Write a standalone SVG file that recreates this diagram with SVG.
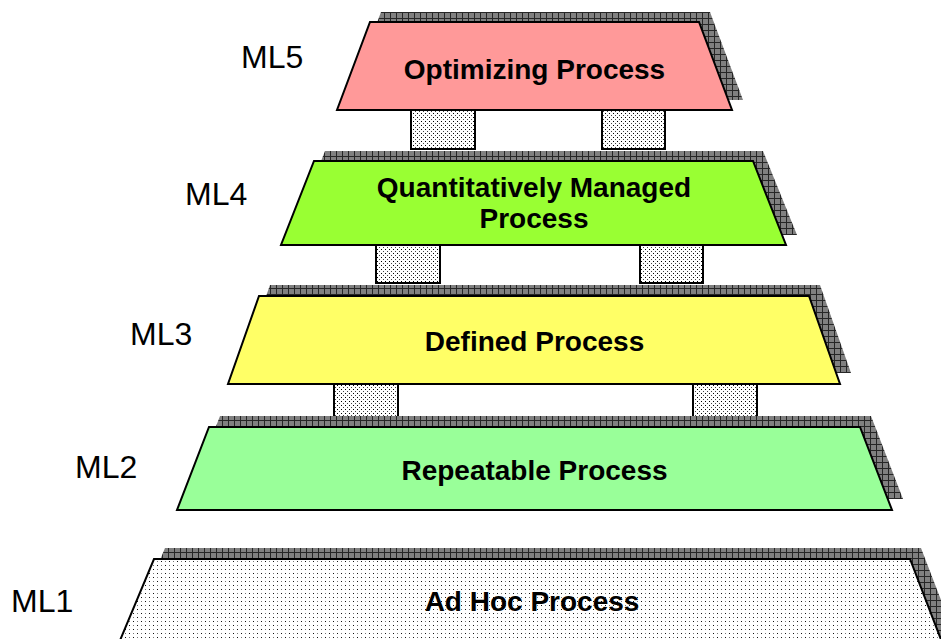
<svg xmlns="http://www.w3.org/2000/svg" width="941" height="639" viewBox="0 0 941 639">
  <defs>
    <!-- gray hatched grid used for drop shadows -->
    <pattern id="grid" patternUnits="userSpaceOnUse" width="6" height="6">
      <rect width="6" height="6" fill="#808080"/>
      <path d="M0 0.5H6M0.5 0V6" stroke="#262626" stroke-width="1" fill="none"/>
    </pattern>
    <!-- sparse dot fill for the base level -->
    <pattern id="sparseDots" patternUnits="userSpaceOnUse" width="8" height="8">
      <rect width="8" height="8" fill="#ffffff"/>
      <rect x="1" y="1" width="1" height="1" fill="#111"/>
      <rect x="5" y="1" width="1" height="1" fill="#777"/>
      <rect x="1" y="5" width="1" height="1" fill="#777"/>
      <rect x="5" y="5" width="1" height="1" fill="#111"/>
    </pattern>
    <!-- dense dot fill for the support blocks -->
    <pattern id="denseDots" patternUnits="userSpaceOnUse" width="4" height="4">
      <rect width="4" height="4" fill="#ffffff"/>
      <rect x="1" y="1" width="1" height="1" fill="#000"/>
      <rect x="3" y="3" width="1" height="1" fill="#444"/>
    </pattern>
  </defs>
  <style>
    .shadow { fill: url(#grid); stroke: none; }
    .level { stroke: #000; stroke-width: 2; stroke-linejoin: miter; }
    .title { font-family: "Liberation Sans", Arial, sans-serif; font-weight: bold; font-size: 28px; text-anchor: middle; fill: #000; }
    .tag { font-family: "Liberation Sans", Arial, sans-serif; font-size: 32px; fill: #000; }
    .block { fill: url(#denseDots); stroke: #000; stroke-width: 2; }
  </style>

  <!-- support blocks between levels -->
  <g id="connectors">
    <rect class="block" x="411" y="110" width="64" height="39"/>
    <rect class="block" x="602" y="110" width="63" height="39"/>
    <rect class="block" x="376" y="245" width="64" height="38"/>
    <rect class="block" x="640" y="245" width="63" height="38"/>
    <rect class="block" x="334" y="384" width="64" height="38"/>
    <rect class="block" x="693" y="384" width="64" height="38"/>
  </g>

  <g id="ml5">
    <polygon class="shadow" points="381,12 710,12 743,100 348,100"/>
    <polygon class="level" fill="#ff9999" points="370,22 699,22 732,110 337,110"/>
    <text class="title" x="534.5" y="79">Optimizing Process</text>
    <text class="tag" x="241" y="68">ML5</text>
  </g>

  <g id="ml4">
    <polygon class="shadow" points="325,151 763,151 797,235 292,235"/>
    <polygon class="level" fill="#99ff33" points="314,161 753,161 786,245 281,245"/>
    <text class="title" x="534" y="197">Quantitatively Managed</text>
    <text class="title" x="534" y="228">Process</text>
    <text class="tag" x="185" y="205">ML4</text>
  </g>

  <g id="ml3">
    <polygon class="shadow" points="270,285 820,285 851,373 239,373"/>
    <polygon class="level" fill="#ffff66" points="259,296 809,296 840,384 228,384"/>
    <text class="title" x="534.5" y="351">Defined Process</text>
    <text class="tag" x="130" y="345">ML3</text>
  </g>

  <g id="ml2">
    <polygon class="shadow" points="220,416 871,416 903,499 188,499"/>
    <polygon class="level" fill="#99ff99" points="209,427 860,427 892,510 177,510"/>
    <text class="title" x="534.5" y="480">Repeatable Process</text>
    <text class="tag" x="75" y="478">ML2</text>
  </g>

  <g id="ml1">
    <polygon class="shadow" points="165,548 921,548 956,639 127,639"/>
    <polygon class="level" fill="url(#sparseDots)" points="154,559 910,559 945,650 116,650"/>
    <text class="title" x="532" y="611">Ad Hoc Process</text>
    <text class="tag" x="11" y="612">ML1</text>
  </g>
</svg>
